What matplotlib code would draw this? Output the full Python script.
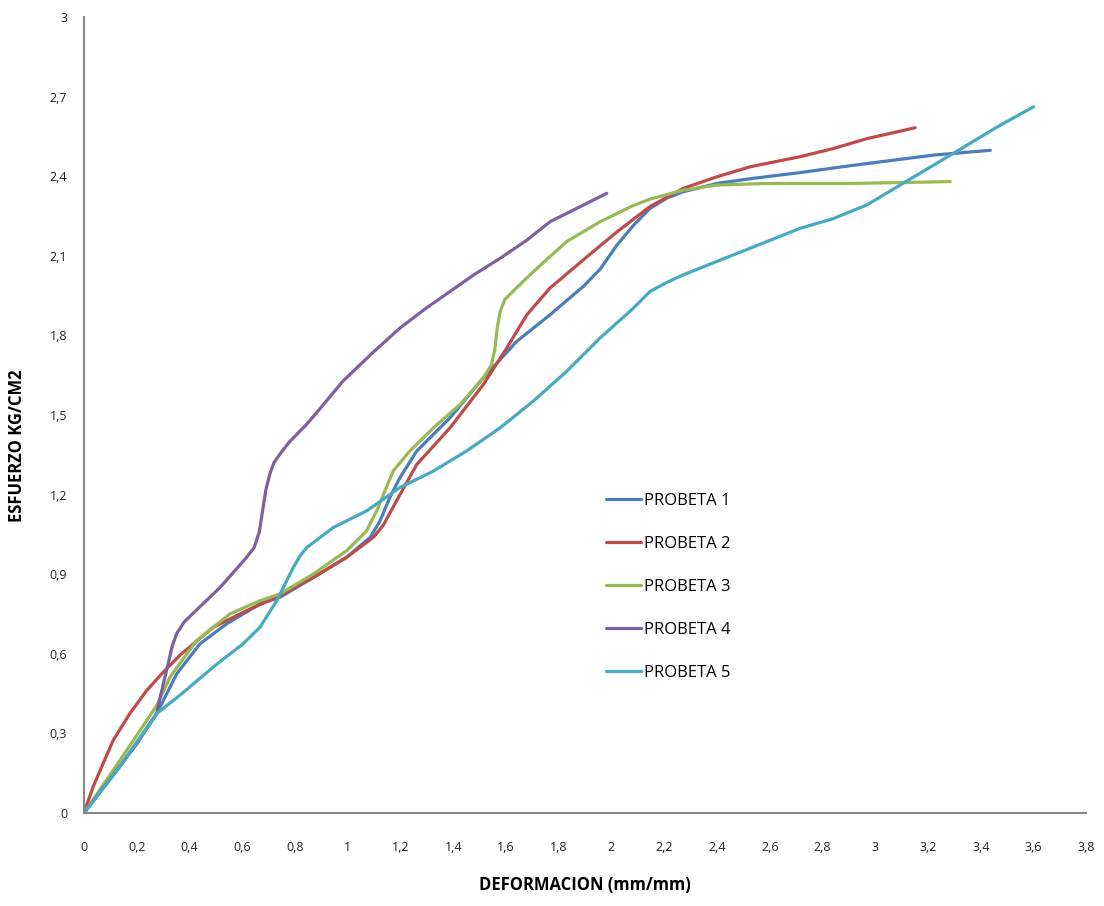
import matplotlib.pyplot as plt
from matplotlib.ticker import FuncFormatter, MultipleLocator

# Probeta 1
x1 = [0, 0.14, 0.276, 0.352, 0.44, 0.541, 0.667, 0.743, 0.87, 0.996, 1.085, 1.122,
      1.16, 1.198, 1.262, 1.388, 1.514, 1.641, 1.767, 1.893, 1.957, 2.02, 2.083, 2.146,
      2.21, 2.273, 2.399, 2.526, 2.715, 2.905, 3.221, 3.436]
y1 = [0, 0.18, 0.375, 0.525, 0.638, 0.713, 0.788, 0.813, 0.888, 0.964, 1.039, 1.1,
      1.19, 1.264, 1.365, 1.49, 1.64, 1.778, 1.878, 1.985, 2.05, 2.14, 2.215, 2.279,
      2.318, 2.342, 2.373, 2.391, 2.414, 2.44, 2.48, 2.498]

# Probeta 2
x2 = [0, 0.035, 0.073, 0.111, 0.174, 0.238, 0.301, 0.364, 0.49, 0.617, 0.743, 0.87,
      0.996, 1.097, 1.135, 1.165, 1.198, 1.262, 1.388, 1.514, 1.603, 1.679, 1.767, 1.893,
      2.02, 2.146, 2.273, 2.399, 2.526, 2.715, 2.842, 2.968, 3.151]
y2 = [0, 0.099, 0.187, 0.274, 0.375, 0.462, 0.531, 0.595, 0.70, 0.763, 0.82, 0.888,
      0.964, 1.039, 1.085, 1.14, 1.2, 1.314, 1.452, 1.615, 1.753, 1.878, 1.979, 2.085,
      2.19, 2.286, 2.355, 2.398, 2.436, 2.474, 2.505, 2.542, 2.583]

# Probeta 3
x3 = [0, 0.137, 0.276, 0.326, 0.427, 0.554, 0.667, 0.743, 0.87, 0.996, 1.072, 1.11,
      1.135, 1.173, 1.236, 1.325, 1.426, 1.514, 1.545, 1.558, 1.567, 1.578, 1.595,
      1.625, 1.704, 1.83, 1.957, 2.083, 2.146, 2.273, 2.399, 2.589, 2.905, 3.284]
y3 = [0, 0.199, 0.405, 0.512, 0.65, 0.751, 0.8, 0.826, 0.901, 0.989, 1.064, 1.139,
      1.2, 1.29, 1.365, 1.452, 1.54, 1.64, 1.69, 1.75, 1.83, 1.89, 1.935,
      1.965, 2.041, 2.154, 2.229, 2.29, 2.314, 2.348, 2.367, 2.373, 2.373, 2.38]

# Probeta 4
x4 = [0, 0.1, 0.2, 0.276, 0.29, 0.314, 0.335, 0.352, 0.38, 0.413, 0.516, 0.617, 0.645,
      0.665, 0.679, 0.69, 0.705, 0.72, 0.743, 0.78, 0.845, 0.9, 0.982, 1.1, 1.198, 1.3,
      1.388, 1.48, 1.578, 1.68, 1.767, 1.88, 1.982]
y4 = [0, 0.13, 0.26, 0.375, 0.44, 0.54, 0.63, 0.677, 0.72, 0.752, 0.85, 0.964, 1.0,
      1.06, 1.15, 1.22, 1.278, 1.32, 1.353, 1.4, 1.466, 1.53, 1.628, 1.74, 1.828, 1.905,
      1.966, 2.03, 2.091, 2.16, 2.229, 2.285, 2.336]

# Probeta 5
x5 = [0, 0.14, 0.276, 0.364, 0.49, 0.541, 0.6, 0.667, 0.731, 0.794, 0.82, 0.845, 0.945,
      1.072, 1.198, 1.325, 1.451, 1.578, 1.704, 1.83, 1.957, 2.083, 2.146, 2.21, 2.273,
      2.399, 2.526, 2.715, 2.842, 2.968, 3.094, 3.221, 3.347, 3.474, 3.6]
y5 = [0, 0.18, 0.375, 0.444, 0.55, 0.59, 0.635, 0.7, 0.8, 0.926, 0.97, 1.001, 1.076,
      1.139, 1.227, 1.289, 1.365, 1.452, 1.553, 1.665, 1.791, 1.903, 1.966, 2.0, 2.029,
      2.079, 2.129, 2.204, 2.241, 2.292, 2.367, 2.442, 2.517, 2.593, 2.662]

series = [
    ("PROBETA 1", x1, y1, "#4A7EBB"),
    ("PROBETA 2", x2, y2, "#BE4B48"),
    ("PROBETA 3", x3, y3, "#98B954"),
    ("PROBETA 4", x4, y4, "#7D60A0"),
    ("PROBETA 5", x5, y5, "#46AAC5"),
]

plt.rcParams['font.family'] = ['Open Sans', 'DejaVu Sans']

fig = plt.figure(figsize=(11.04, 9.06), dpi=100)
ax = fig.add_axes([0.076, 0.1026, 0.908, 0.8785])

for name, xs, ys, col in series:
    ax.plot(xs, ys, color=col, lw=2.3, label=name,
            solid_capstyle='round', solid_joinstyle='round')

ax.set_xlim(0, 3.8)
ax.set_ylim(0, 3)
ax.xaxis.set_major_locator(MultipleLocator(0.2))
ax.yaxis.set_major_locator(MultipleLocator(0.3))

def comma(v, pos):
    s = f"{v:.1f}".rstrip('0').rstrip('.')
    return s.replace('.', ',')

ax.xaxis.set_major_formatter(FuncFormatter(comma))
ax.yaxis.set_major_formatter(FuncFormatter(comma))
ax.tick_params(axis='both', length=0, labelsize=9, colors='#222222')
ax.tick_params(axis='x', pad=20)
ax.tick_params(axis='y', pad=12)

for s in ['top', 'right']:
    ax.spines[s].set_visible(False)
for s in ['left', 'bottom']:
    ax.spines[s].set_color('#888888')
    ax.spines[s].set_linewidth(1.5)

ax.set_xlabel("DEFORMACION (mm/mm)", fontsize=12, fontweight='bold', labelpad=16)
ax.set_ylabel("ESFUERZO KG/CM2", fontsize=12, fontweight='bold')
ax.yaxis.set_label_coords(-0.058, 0.462)

ax.legend(loc='upper left', bbox_to_anchor=(0.506, 0.421), frameon=False,
          fontsize=12, labelspacing=1.62, handlelength=2.1, handletextpad=0.15)

fig.savefig("out.png", dpi=100)
